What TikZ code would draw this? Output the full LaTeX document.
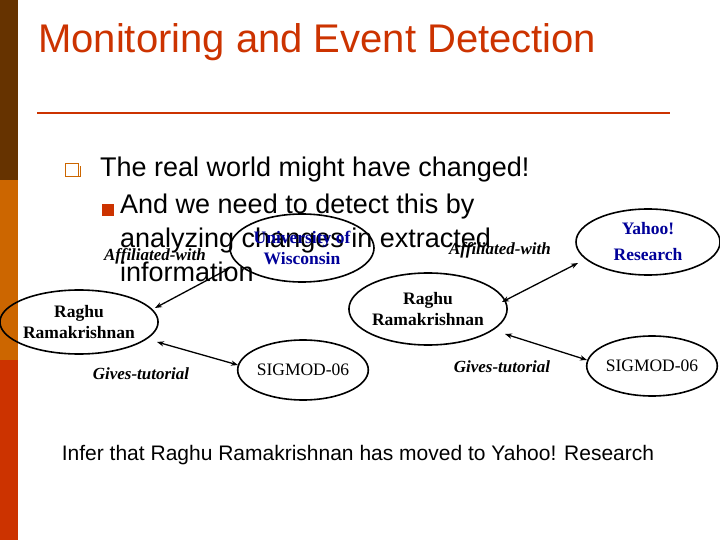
\documentclass[tikz,border=0pt]{standalone}
\usepackage{fontspec}
\setmainfont{Liberation Sans}
\newfontfamily\labelfont{Liberation Serif}
\usetikzlibrary{shapes.geometric,arrows.meta,positioning}
\definecolor{barbrown}{RGB}{102,51,0}
\definecolor{barorange}{RGB}{204,102,0}
\definecolor{barred}{RGB}{204,51,0}
\definecolor{titlered}{RGB}{204,51,0}
\definecolor{orgblue}{RGB}{0,0,153}

\begin{document}
\begin{tikzpicture}[x=1pt,y=-1pt,
    entity/.style={draw,ellipse,line width=1.6pt,minimum width=130pt,minimum height=64pt,
      font=\labelfont\bfseries\fontsize{17.5}{21}\selectfont,align=center,inner sep=0pt},
    org/.style={entity,text=orgblue},
    rel/.style={font=\labelfont\bfseries\itshape\fontsize{17}{19}\selectfont},
    link/.style={{Stealth[length=7pt]}-{Stealth[length=7pt]},line width=1.3pt},
    body/.style={anchor=west,font=\fontsize{27}{33}\selectfont,inner sep=0pt}
  ]
  \useasboundingbox (0,0) rectangle (720,540);
  \fill[white] (0,0) rectangle (720,540);

  % the side bar
  \fill[barbrown] (0,0) rectangle (18,180);
  \fill[barorange] (0,180) rectangle (18,360);
  \fill[barred] (0,360) rectangle (18,540);

  % the title
  \node[anchor=west,text=titlered,font=\fontsize{40}{44}\selectfont,inner sep=0pt] (title) at (38,42) {Monitoring and Event Detection};
  \draw[titlered,line width=1.5pt] (37,113) -- (670,113);

  % the bullets
  \node[body] (b1) at (100,170) {The real world might have changed!};
  \draw[barorange,line width=1pt] (65,164) rectangle (78,177);
  \draw[barorange,line width=1pt] (67,177) -- (80,177) -- (80,166);
  \fill[barred] (102,204) rectangle (114,216);
  \node[body,anchor=north west,align=left,font=\fontsize{27}{34}\selectfont] (b2) at (120,194)
    {And we need to detect this by\\analyzing changes in extracted\\information};

  % the old facts
  \node[entity,minimum width=128pt] (raghuA) at (79,322) {Raghu\\Ramakrishnan};
  \node[org,minimum width=144pt,minimum height=68pt] (uw) at (302,248) {University of\\Wisconsin};
  \node[entity,minimum width=126pt,minimum height=60pt] (sigA) at (303,370) {\mdseries SIGMOD-06};
  \draw[link] (155,308) -- (230,268);
  \draw[link] (157,342) -- (238,365);
  \node[rel] (affA) at (155,256) {Affiliated-with};
  \node[rel] (tutA) at (141,374) {Gives-tutorial};

  % the new facts
  \node[entity,minimum width=130pt,minimum height=72pt] (raghuB) at (428,309) {Raghu\\Ramakrishnan};
  \node[org,minimum width=144pt,minimum height=66pt,font=\labelfont\bfseries\fontsize{17.5}{26}\selectfont] (yahoo) at (648,242) {Yahoo!\\Research};
  \node[entity,minimum width=122pt,minimum height=60pt] (sigB) at (652,366) {\mdseries SIGMOD-06};
  \draw[link] (502,302) -- (578,263);
  \draw[link] (505,334) -- (587,360);
  \node[rel] (affB) at (500,250) {Affiliated-with};
  \node[rel] (tutB) at (502,367) {Gives-tutorial};

  % the conclusion
  \node[font=\fontsize{21}{24}\selectfont,inner sep=0pt] (infer) at (358,455) {Infer that Raghu Ramakrishnan has moved to Yahoo! Research};
\end{tikzpicture}
\end{document}
